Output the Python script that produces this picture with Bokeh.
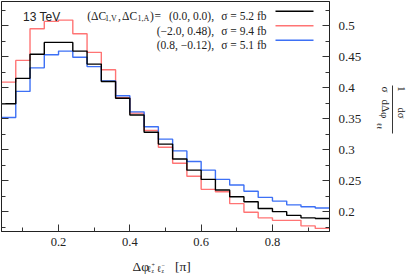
from bokeh.plotting import figure
from bokeh.models import LinearAxis, FixedTicker, Label, BoxAnnotation, Range1d
from bokeh.layouts import row, column
from bokeh.embed import file_html
from bokeh.resources import INLINE

# ---- data ----
bin_edges = [0.04, 0.08, 0.12, 0.16, 0.20, 0.24, 0.28, 0.32, 0.36, 0.40, 0.44, 0.48,
             0.52, 0.56, 0.60, 0.64, 0.68, 0.72, 0.76, 0.80, 0.84, 0.88, 0.92, 0.96]
sm_values = [0.374, 0.415, 0.454, 0.473, 0.473, 0.459, 0.438, 0.410, 0.383, 0.356, 0.328, 0.309,
             0.285, 0.267, 0.252, 0.235, 0.224, 0.216, 0.205, 0.200, 0.194, 0.190, 0.189]
red_values = [0.409, 0.444, 0.495, 0.507, 0.509, 0.487, 0.457, 0.429, 0.384, 0.359, 0.331, 0.304,
              0.278, 0.257, 0.236, 0.232, 0.213, 0.199, 0.190, 0.186, 0.186, 0.177, 0.173]
blue_values = [0.352, 0.394, 0.432, 0.453, 0.459, 0.449, 0.434, 0.411, 0.387, 0.361, 0.337, 0.317,
               0.298, 0.281, 0.267, 0.252, 0.243, 0.233, 0.223, 0.217, 0.211, 0.208, 0.206]

x_ticks = [0.2, 0.4, 0.6, 0.8]
x_minor = [0.1, 0.3, 0.5, 0.7, 0.9]
x_labels = ["0.2", "0.4", "0.6", "0.8"]
y_ticks = [0.2, 0.25, 0.3, 0.35, 0.4, 0.45, 0.5]
y_minor = [0.175, 0.225, 0.275, 0.325, 0.375, 0.425, 0.475, 0.525]
y_labels = ["0.2", "0.25", "0.3", "0.35", "0.4", "0.45", "0.5"]

legend_points = ["(0.0, 0.0),", "(−2.0, 0.48),", "(0.8, −0.12),"]
legend_xsec = ["σ = 5.2 fb", "σ = 9.4 fb", "σ = 5.1 fb"]
colors = ["#000000", "#ff7474", "#3d70f5"]

SERIF = "Liberation Serif"
TXT = "#222222"

# ---- main figure: frame spans page x 1..329, y 1..231 ----
MW, MH = 370, 251
FL, FB = 1, 231
p = figure(width=MW, height=MH, title=None,
           x_range=Range1d(0.04, 0.96), y_range=Range1d(0.168, 0.539),
           y_axis_location="right", output_backend="svg", toolbar_location=None,
           min_border_left=1, min_border_top=1, min_border_right=41, min_border_bottom=20)
p.background_fill_color = "white"
p.border_fill_color = "white"
p.outline_line_color = "#222222"
p.outline_line_width = 1
p.xgrid.visible = False
p.ygrid.visible = False


def style_axis(ax, ticks, minor, labels, show_labels=True):
    ax.ticker = FixedTicker(ticks=ticks, minor_ticks=minor)
    ax.major_label_overrides = {t: l for t, l in zip(ticks, labels)}
    ax.major_tick_in = 7
    ax.major_tick_out = 0
    ax.minor_tick_in = 4
    ax.minor_tick_out = 0
    ax.axis_line_color = "#222222"
    ax.major_tick_line_color = "#333333"
    ax.minor_tick_line_color = "#333333"
    ax.major_label_text_font = SERIF
    ax.major_label_text_font_style = "normal"
    ax.axis_label = None
    if show_labels:
        ax.major_label_text_color = TXT
        ax.major_label_text_font_size = "12.5px"
        ax.major_label_standoff = 6
    else:
        ax.major_label_text_color = None
        ax.major_label_text_font_size = "0px"
        ax.major_label_standoff = 0


style_axis(p.xaxis[0], x_ticks, x_minor, x_labels)
style_axis(p.yaxis[0], y_ticks, y_minor, y_labels)
p.yaxis[0].major_label_text_font_size = "13px"
p.yaxis[0].major_label_standoff = 9
left_axis = LinearAxis()
style_axis(left_axis, y_ticks, y_minor, y_labels, show_labels=False)
p.add_layout(left_axis, "left")

# ---- histograms ----
for vals, col in [(red_values, colors[1]), (blue_values, colors[2]), (sm_values, colors[0])]:
    p.step(x=bin_edges, y=vals + [vals[-1]], mode="after", line_color=col, line_width=1.4)


def lab(fig, text, x, y, size, units="screen", align="left", baseline="alphabetic", angle=0.0,
        font=SERIF):
    fig.add_layout(Label(x=x, y=y, x_units=units, y_units=units, text=text,
                         text_font=font, text_font_size=f"{size}px", text_align=align,
                         text_baseline=baseline, angle=angle, text_color=TXT))


def mlab(text, X, Y, size, **kw):
    lab(p, text, X - FL, FB - Y, size, **kw)


def hbar(X1, X2, Y, col, th=1.5):
    p.add_layout(BoxAnnotation(left=X1 - FL, right=X2 - FL, top=FB - (Y - th / 2), bottom=FB - (Y + th / 2),
                               left_units="screen", right_units="screen", top_units="screen",
                               bottom_units="screen", fill_color=col, fill_alpha=1.0, line_color=None,
                               level="overlay"))


# title
mlab("13 TeV", 22.5, 16.5, 12, font="Liberation Sans")

# legend
fs = 11.5
mlab("(ΔC", 86.7, 15.8, fs)
mlab("1,V", 104.5, 18, 8)
mlab(",", 117.5, 15.8, fs)
mlab("ΔC", 121.5, 15.8, fs)
mlab("1,A", 137, 18, 8)
mlab(")", 149.5, 15.8, fs)
mlab("=", 154, 15.8, fs)
for i, Y in enumerate([15.8, 30.2, 44.8]):
    mlab(legend_points[i], 213.5, Y, fs, align="right")
    mlab(legend_xsec[i], 266, Y, fs, align="right")
for Y, col in zip([10.7, 25.2, 39.8], colors):
    hbar(275, 313, Y, col)


def strip(w, h, x0, x1, bl=0, br=0):
    f = figure(width=w, height=h, title=None, x_range=Range1d(x0, x1), y_range=Range1d(0, h),
               x_axis_location=None, y_axis_location=None, output_backend="svg",
               toolbar_location=None, min_border_left=bl, min_border_right=br,
               min_border_top=0, min_border_bottom=0, outline_line_color=None)
    f.xgrid.visible = False
    f.ygrid.visible = False
    f.border_fill_color = "white"
    f.background_fill_color = "white"
    return f


# ---- x-label strip below (page y MH..276); x data = page x of the frame 1..329 ----
XH = 276 - MH
xl = strip(MW, XH, 1, 329, bl=1, br=41)


def xlab(text, X, Y, size, **kw):
    lab(xl, text, X, 276 - Y, size, units="data", **kw)


xlab("Δφ", 132, 266, 13.5)
xlab("ℓ", 146.5, 268.5, 9)
xlab("+", 151, 264.5, 6)
xlab("z", 151, 270.5, 5.5)
xlab("ℓ", 156.5, 268.5, 9)
xlab("−", 161, 264.5, 6)
xlab("z", 161, 270.5, 5.5)
xlab("[π]", 174.5, 266, 13.5)

# ---- y-label strip right (page x 370..407, y 0..276) ----
YW, YH = 407 - MW, 276
yl = strip(YW, YH, 0, YW)


def ylab(text, X, Y, size, **kw):
    lab(yl, text, X - MW, 276 - Y, size, units="data", align="center", baseline="middle",
        angle=-1.5708, **kw)


ylab("1", 401, 88.5, 10.5)
ylab("dσ", 401, 112.5, 10.5)
ylab("σ", 385, 89, 11)
ylab("dΔφ", 385, 108.5, 11)
ylab("ℓℓ", 378.5, 125.5, 7)
yl.add_layout(BoxAnnotation(left=392 - MW - 0.45, right=392 - MW + 0.45, top=276 - 85, bottom=276 - 133,
                            fill_color=TXT, fill_alpha=1.0, line_color=None))

layout = row(column(p, xl, spacing=0), yl, spacing=0)
open("out.html", "w").write(file_html(layout, INLINE))
